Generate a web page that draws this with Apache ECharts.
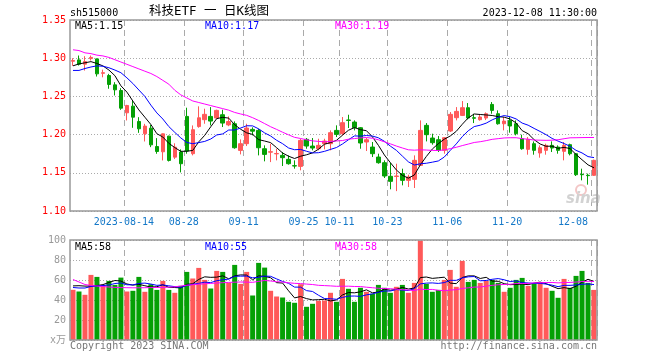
<!DOCTYPE html>
<html><head><meta charset="utf-8">
<script src="https://cdn.jsdelivr.net/npm/echarts@6/dist/echarts.min.js"></script>
<style>html,body{margin:0;padding:0;background:#fff}#c{width:660px;height:360px}</style>
</head><body><div id="c"></div>
<script>
const dates = [
'2023-08-01','2023-08-02','2023-08-03','2023-08-04','2023-08-07','2023-08-08','2023-08-09','2023-08-10','2023-08-11','2023-08-14','2023-08-15','2023-08-16','2023-08-17','2023-08-18','2023-08-21','2023-08-22','2023-08-23','2023-08-24','2023-08-25','2023-08-28','2023-08-29','2023-08-30','2023-08-31',
'2023-09-01','2023-09-04','2023-09-05','2023-09-06','2023-09-07','2023-09-08','2023-09-11','2023-09-12','2023-09-13','2023-09-14','2023-09-15','2023-09-18','2023-09-19','2023-09-20','2023-09-21','2023-09-22','2023-09-25','2023-09-26','2023-09-27','2023-09-28',
'2023-10-09','2023-10-10','2023-10-11','2023-10-12','2023-10-13','2023-10-16','2023-10-17','2023-10-18','2023-10-19','2023-10-20','2023-10-23','2023-10-24','2023-10-25','2023-10-26','2023-10-27','2023-10-30','2023-10-31',
'2023-11-01','2023-11-02','2023-11-03','2023-11-06','2023-11-07','2023-11-08','2023-11-09','2023-11-10','2023-11-13','2023-11-14','2023-11-15','2023-11-16','2023-11-17','2023-11-20','2023-11-21','2023-11-22','2023-11-23','2023-11-24','2023-11-27','2023-11-28','2023-11-29','2023-11-30',
'2023-12-01','2023-12-04','2023-12-05','2023-12-06','2023-12-07','2023-12-08'];

const openP = [1.296,1.2978,1.2922,1.2995,1.2991,1.2802,1.2773,1.2651,1.2577,1.2285,
1.2372,1.2172,1.2011,1.2084,1.1844,1.1775,1.198,1.1705,1.1772,1.2238,
1.175,1.2105,1.2195,1.2238,1.2217,1.226,1.2127,1.2142,1.1793,1.1881,
1.2068,1.2055,1.1815,1.177,1.1748,1.1728,1.1676,1.1593,1.1584,1.1938,
1.185,1.1815,1.1881,1.1881,1.2055,1.2012,1.2191,1.2164,1.209,1.1903,
1.1837,1.1706,1.1632,1.1454,1.1452,1.1489,1.1401,1.1414,1.1597,1.2121,
1.1955,1.1933,1.1794,1.2047,1.2221,1.2251,1.2352,1.2221,1.2195,1.2217,
1.2395,1.2273,1.2142,1.2186,1.2142,1.1946,1.1807,1.1881,1.1759,1.1794,
1.1859,1.1837,1.1781,1.1868,1.175,1.148,1.1468,1.1467];
const closeP = [1.297,1.2922,1.2956,1.301,1.2795,1.281,1.2656,1.2586,1.2346,1.2381,
1.2228,1.2076,1.2111,1.1866,1.1779,1.201,1.1662,1.1835,1.1619,1.1785,
1.2064,1.222,1.2265,1.2177,1.2317,1.2151,1.2171,1.1828,1.1881,1.2086,
1.2045,1.1828,1.1741,1.1776,1.1753,1.1698,1.1619,1.1589,1.1924,1.185,
1.1824,1.1859,1.1916,1.2025,1.2003,1.2156,1.2186,1.209,1.189,1.1933,
1.175,1.1632,1.1458,1.1388,1.1458,1.1401,1.1445,1.1663,1.2055,1.1999,
1.1894,1.1794,1.1959,1.2265,1.2304,1.2352,1.2217,1.2214,1.223,1.2273,
1.2317,1.2142,1.2177,1.2112,1.2012,1.1815,1.1938,1.1794,1.1828,1.1859,
1.1824,1.1794,1.1859,1.175,1.1475,1.1475,1.1463,1.1663];
const lowP = [1.290,1.2904,1.2838,1.297,1.276,1.275,1.260,1.2512,1.2324,1.2185,
1.2089,1.2023,1.191,1.1836,1.1749,1.1662,1.1648,1.168,1.1505,1.175,
1.1728,1.209,1.2142,1.212,1.2208,1.2099,1.211,1.1815,1.1741,1.185,
1.199,1.1728,1.165,1.164,1.1663,1.1589,1.1606,1.1554,1.1532,1.1815,
1.1794,1.1794,1.1807,1.1794,1.1968,1.199,1.2086,1.2055,1.1815,1.1785,
1.1706,1.1619,1.1432,1.1284,1.126,1.1336,1.1314,1.1301,1.1597,1.1911,
1.1868,1.1772,1.175,1.2034,1.2186,1.2243,1.2199,1.2151,1.2182,1.219,
1.2273,1.213,1.2055,1.2025,1.199,1.1802,1.1737,1.1737,1.1698,1.1737,
1.1772,1.175,1.1663,1.1728,1.1458,1.1401,1.1345,1.1458];
const highP = [1.300,1.3035,1.3026,1.3035,1.2995,1.285,1.2795,1.2686,1.2608,1.239,
1.2442,1.2228,1.2141,1.2128,1.1954,1.2015,1.1985,1.1886,1.1807,1.2352,
1.212,1.237,1.2339,1.236,1.2326,1.2326,1.2238,1.2173,1.1937,1.2142,
1.2095,1.2077,1.1859,1.188,1.1815,1.1772,1.1728,1.1663,1.1946,1.1955,
1.1955,1.1946,1.1946,1.2055,1.2121,1.223,1.226,1.2186,1.2099,1.1955,
1.1903,1.175,1.1663,1.1632,1.1619,1.1554,1.1475,1.1728,1.2186,1.2151,
1.2012,1.1981,1.1968,1.2295,1.236,1.2439,1.2413,1.2273,1.226,1.229,
1.2426,1.2317,1.223,1.223,1.2186,1.1999,1.1968,1.1911,1.1859,1.1881,
1.1911,1.1859,1.1903,1.1881,1.175,1.1554,1.1489,1.1672];
const volume = [50.2,48.5,45.2,65.1,63.1,55.1,59.1,55.1,62.4,48.5,
49.2,63.1,48.2,55.8,50.1,59.1,50.1,47.2,54.1,68.1,
61.5,72.1,60.1,51.5,69.1,68.1,57.1,75.1,56.1,68.1,
44.5,77.1,72.4,49.2,43.5,42.5,38.2,37.2,55.8,33.2,
36.2,39.2,39.5,47.2,38.2,61.1,51.2,38.2,52.2,48.2,
46.2,55.1,52.2,47.2,53.2,55.1,47.2,57.1,99.5,56.1,
48.2,50.1,60.1,70.1,53.2,79.1,58.1,60.1,57.1,59.1,
60.1,57.1,48.2,52.2,60.1,62.1,54.1,56.1,57.1,52.2,
49.2,42.2,61.1,52.2,64.1,69.1,57.1,50.1];

// moving-average values for the days whose window starts before the chart
const priceMa5Lead = [1.290,1.2925,1.294,1.2955];
const priceMa10Lead = [1.284,1.284,1.2865,1.2885,1.290,1.2895,1.2875,1.2845,1.281];
const priceMa30Lead = [1.311,1.310,1.307,1.306,1.304,1.303,1.301,1.298,1.295,1.292,1.289,1.286,1.283,1.280,1.276,1.271,1.266,1.258,1.252,1.248,1.244,1.242,1.240,1.238,1.236,1.234,1.232,1.229,1.227];
const volMa5Lead = [54.1,54.3,53.9,53.9];
const volMa10Lead = [52.5,52,52,53.5,54,54.5,55,56.5,57];
const volMa30Lead = [60.5,58,55.5,54.5,54,53.5,53,52.6,52.4,52.3,52.2,52.2,52.3,52.4,52.5,52.6,52.8,53.2,54,54.8,55.3,55.8,56.2,56.6,57,57.3,57.6,57.8,58];

const tickDates = ['2023-08-14','2023-08-28','2023-09-11','2023-09-25','2023-10-11','2023-10-23','2023-11-06','2023-11-20','2023-12-08'];
const tickLabels = ['2023-08-14','08-28','09-11','09-25','10-11','10-23','11-06','11-20','12-08'];

const maLabels = ['MA5:1.15','MA10:1.17','MA30:1.19'];
const volMaLabels = ['MA5:58','MA10:55','MA30:58'];

const RED = '#ff5959', GREEN = '#05a005';
const MONO = '"DejaVu Sans Mono","Noto Sans CJK SC",monospace';

function movingAvg(src, n, lead) {
  return src.map((v, i) => {
    if (i < n - 1) return lead[i];
    let s = 0;
    for (let k = i - n + 1; k <= i; k++) s += src[k];
    return +(s / n).toFixed(4);
  });
}

const candles = dates.map((d, i) => [openP[i], closeP[i], lowP[i], highP[i]]);
const volBars = volume.map((v, i) => ({ value: v, itemStyle: { color: closeP[i] >= openP[i] ? RED : GREEN } }));
const tickIdx = new Set(tickDates.map(d => dates.indexOf(d)));

function xAxisCfg(grid, showLabel) {
  return {
    type: 'category', gridIndex: grid, data: dates, boundaryGap: true,
    axisLine: { show: false }, axisTick: { show: false },
    axisLabel: {
      show: showLabel, interval: (i) => tickIdx.has(i),
      formatter: (v) => tickLabels[tickDates.indexOf(v)],
      color: '#1478c8', fontFamily: MONO, fontSize: 10, margin: 6,
      padding: [0, 6, 0, 0], alignMaxLabel: 'right'
    },
    splitLine: { show: true, interval: (i) => tickIdx.has(i), lineStyle: { color: '#aaa', type: [6, 4], width: 1 } }
  };
}

function line(name, data, color, xi, yi) {
  return { name, type: 'line', data, xAxisIndex: xi, yAxisIndex: yi, symbol: 'none', showSymbol: false,
    lineStyle: { color, width: 1 }, silent: true, z: 5, emphasis: { disabled: true } };
}

function txt(x, y, text, fill, align, size) {
  return { type: 'text', x, y, z: 200, style: { text, fill, font: (size || 10) + 'px ' + MONO, textAlign: align || 'left', textVerticalAlign: 'middle' } };
}

const chart = echarts.init(document.getElementById('c'), null, { renderer: 'canvas' });
chart.setOption({
  animation: false,
  backgroundColor: '#fff',
  grid: [
    { left: 70, top: 20, width: 527, height: 191, outerBoundsMode: 'none' },
    { left: 70, top: 240, width: 527, height: 100, outerBoundsMode: 'none' }
  ],
  xAxis: [xAxisCfg(0, true), xAxisCfg(1, false)],
  yAxis: [
    { type: 'value', gridIndex: 0, min: 1.10, max: 1.35, interval: 0.05, scale: true,
      axisLine: { show: false }, axisTick: { show: false },
      axisLabel: { color: '#f00', fontFamily: MONO, fontSize: 10, margin: 4, formatter: v => v.toFixed(2) },
      splitLine: { lineStyle: { color: '#aaa', type: [1, 2] } } },
    { type: 'value', gridIndex: 1, min: 0, max: 100, interval: 20,
      axisLine: { show: false }, axisTick: { show: false },
      axisLabel: { color: '#999', fontFamily: MONO, fontSize: 10, margin: 4, formatter: v => v === 0 ? 'x万' : String(v) },
      splitLine: { lineStyle: { color: '#aaa', type: [1, 2] } } }
  ],
  series: [
    { type: 'candlestick', data: candles, xAxisIndex: 0, yAxisIndex: 0, barWidth: 4, silent: true,
      itemStyle: { color: RED, color0: GREEN, borderColor: RED, borderColor0: GREEN, borderWidth: 1 } },
    line('MA5', movingAvg(closeP, 5, priceMa5Lead), '#000', 0, 0),
    line('MA10', movingAvg(closeP, 10, priceMa10Lead), '#0000ff', 0, 0),
    line('MA30', movingAvg(closeP, 30, priceMa30Lead), '#ff00ff', 0, 0),
    { type: 'bar', data: volBars, xAxisIndex: 1, yAxisIndex: 1, barWidth: 5, silent: true },
    line('VMA5', movingAvg(volume, 5, volMa5Lead), '#000', 1, 1),
    line('VMA10', movingAvg(volume, 10, volMa10Lead), '#0000ff', 1, 1),
    line('VMA30', movingAvg(volume, 30, volMa30Lead), '#ff00ff', 1, 1)
  ],
  graphic: [
    { type: 'rect', z: 150, shape: { x: 70, y: 20, width: 527, height: 191 }, style: { fill: 'none', stroke: '#999', lineWidth: 1.5 } },
    { type: 'rect', z: 150, shape: { x: 70, y: 240, width: 527, height: 100 }, style: { fill: 'none', stroke: '#999', lineWidth: 1.5 } },
    txt(70, 13, 'sh515000', '#000', 'left'),
    txt(209, 12, '科技ETF 一 日K线图', '#000', 'center', 12.5),
    txt(597, 13, '2023-12-08 11:30:00', '#000', 'right'),
    txt(75, 26, maLabels[0], '#000'),
    txt(205, 26, maLabels[1], '#0000ff'),
    txt(335, 26, maLabels[2], '#ff00ff'),
    txt(75, 247, volMaLabels[0], '#000'),
    txt(205, 247, volMaLabels[1], '#0000ff'),
    txt(335, 247, volMaLabels[2], '#ff00ff'),
    txt(70, 346, 'Copyright 2023 SINA.COM', '#777'),
    txt(597, 346, 'http://finance.sina.com.cn', '#777', 'right'),
    { type: 'circle', z: 1, shape: { cx: 581, cy: 190, r: 5 }, style: { fill: 'none', stroke: '#f3c6c6', lineWidth: 2 } },
    { type: 'text', x: 566, y: 199, z: 1, style: { text: 'sina', fill: '#d2d2d2', font: 'italic bold 15px "DejaVu Sans",sans-serif', textVerticalAlign: 'middle' } }
  ]
});
</script></body></html>
